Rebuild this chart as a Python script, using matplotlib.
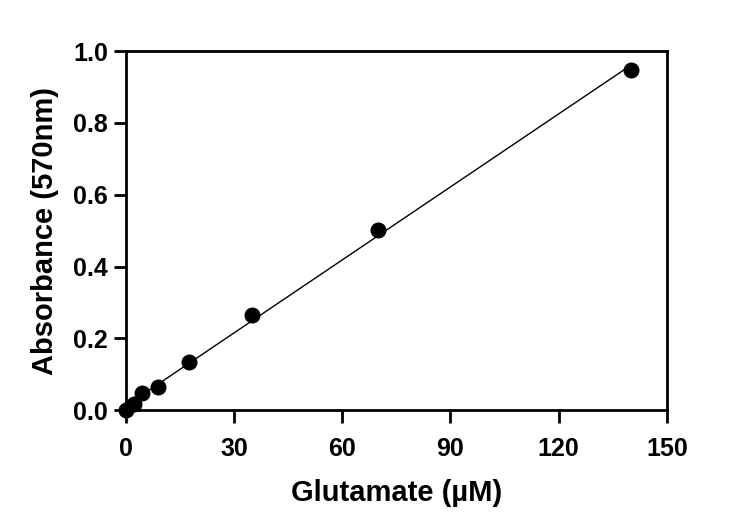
import numpy as np
import matplotlib
matplotlib.use("Agg")
import matplotlib.pyplot as plt

plt.rcParams["font.family"] = ["Liberation Sans", "DejaVu Sans"]
plt.rcParams["font.weight"] = "bold"

# standard curve data
glutamate = [0, 2.1875, 4.375, 8.75, 17.5, 35, 70, 140]
absorbance = [0.0, 0.017, 0.048, 0.064, 0.134, 0.265, 0.503, 0.948]
x_ticks = [0, 30, 60, 90, 120, 150]
y_ticks = [0.0, 0.2, 0.4, 0.6, 0.8, 1.0]

slope, intercept = np.polyfit(glutamate, absorbance, 1)
fit_x = np.array([min(glutamate), max(glutamate)])

fig = plt.figure(figsize=(7.5, 5.32), dpi=100)
ax = fig.add_axes([0.168, 0.229, 0.721, 0.675])

ax.plot(fit_x, slope * fit_x + intercept, color="black", lw=1.0, zorder=2)
ax.plot(glutamate, absorbance, "o", color="black", ms=10.5, zorder=3, clip_on=False)

ax.set_xlim(0, 150)
ax.set_ylim(0, 1.0)
ax.set_xticks(x_ticks)
ax.set_yticks(y_ticks)
ax.set_yticklabels([f"{v:.1f}" for v in y_ticks])
for s in ax.spines.values():
    s.set_linewidth(2)
ax.tick_params(direction="out", length=9, width=2, labelsize=18)
ax.tick_params(axis="x", pad=10)
ax.tick_params(axis="y", pad=4)
for lab in ax.get_xticklabels() + ax.get_yticklabels():
    lab.set_fontweight("bold")

ax.set_xlabel("Glutamate (µM)", fontsize=21, fontweight="bold", labelpad=13)
ax.set_ylabel("Absorbance (570nm)", fontsize=21, fontweight="bold", labelpad=10)

fig.savefig("out.png", dpi=100)
